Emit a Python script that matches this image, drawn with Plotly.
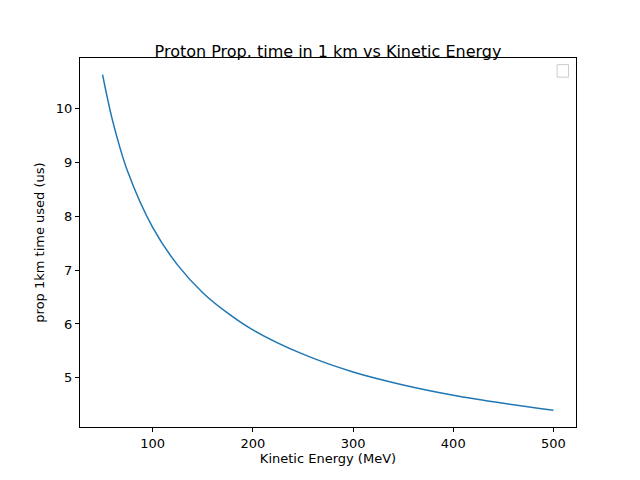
import plotly.graph_objects as go

energy = [50, 60, 75, 100, 125, 150, 175, 200, 250, 300, 350, 400, 450, 500]
prop_time = [10.62, 9.77, 8.83, 7.79, 7.09, 6.58, 6.20, 5.89, 5.44, 5.11, 4.87, 4.68, 4.53, 4.40]

fig = go.Figure(go.Scatter(x=energy, y=prop_time, mode="lines", line=dict(color="#1f77b4", width=1.5, shape="spline")))
ax = dict(showgrid=False, zeroline=False, showline=True, linecolor="black", mirror=True,
          ticks="outside", ticklen=4, tickcolor="black", tickfont=dict(size=13))
fig.update_layout(
    width=640, height=480, plot_bgcolor="white", paper_bgcolor="white",
    font=dict(family="DejaVu Sans", size=12, color="black"),
    margin=dict(l=72, r=72, t=50, b=61), showlegend=False,
    title=dict(text="Proton Prop. time in 1 km vs Kinetic Energy", x=0.5, xanchor="center", y=0.91, yanchor="middle", font=dict(size=16)),
    xaxis=dict(ax, range=[27.5, 522.5], tickvals=[100, 200, 300, 400, 500], title=dict(text="Kinetic Energy (MeV)", standoff=4, font=dict(size=13))),
    yaxis=dict(ax, range=[4.09, 10.93], tickvals=[5, 6, 7, 8, 9, 10], title=dict(text="prop 1km time used (us)", standoff=8, font=dict(size=13))),
)
fig.add_shape(type="rect", xref="paper", yref="paper", x0=0.962, x1=0.985, y0=0.948, y1=0.982,
              line=dict(color="#cccccc", width=1), fillcolor="white")
fig.write_html("out.html")
